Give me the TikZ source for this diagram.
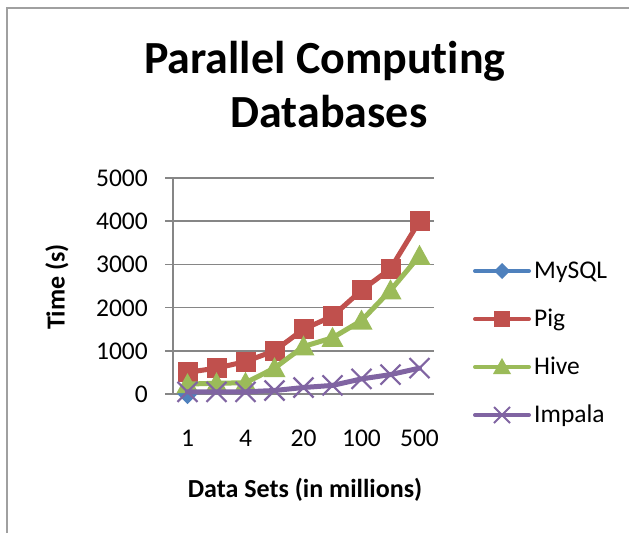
\documentclass[tikz,border=0pt]{standalone}
\usepackage{fontspec}
\setmainfont[Ligatures=CommonOff]{Carlito}
\definecolor{mysqlc}{HTML}{4F81BD}
\definecolor{pigc}{HTML}{C0504D}
\definecolor{hivec}{HTML}{9BBB59}
\definecolor{impc}{HTML}{8064A2}
\definecolor{gridc}{HTML}{868686}
\definecolor{framec}{HTML}{A0A0A0}
\tikzset{
  lbl/.style={inner sep=0pt, font=\fontsize{25.5}{30}\selectfont},
  axt/.style={inner sep=0pt, font=\fontsize{26}{30}\selectfont\bfseries},
  ttl/.style={inner sep=0pt, font=\fontsize{46}{50}\selectfont\bfseries},
  serie/.style={line width=5pt, line join=round, line cap=round},
  legline/.style={line width=4pt, line cap=round},
  pics/sqm/.style={code={\fill[#1] (-10,-10) rectangle (10,10);}},
  pics/trim/.style={code={\fill[#1] (0,-11) -- (11,9) -- (-11,9) -- cycle;}},
  pics/xm/.style={code={\draw[#1, line width=2.2pt] (-10,-10) -- (10,10) (-10,10) -- (10,-10);}},
  pics/dm/.style={code={\fill[#1] (0,-10) -- (10,0) -- (0,10) -- (-10,0) -- cycle;}},
  pics/sqs/.style={code={\fill[#1] (-8,-8) rectangle (8,8);}},
  pics/tris/.style={code={\fill[#1] (0,-9) -- (9,7) -- (-9,7) -- cycle;}},
  pics/xs/.style={code={\draw[#1, line width=2pt] (-8,-8) -- (8,8) (-8,8) -- (8,-8);}},
  pics/ds/.style={code={\fill[#1] (0,-8) -- (8,0) -- (0,8) -- (-8,0) -- cycle;}},
}
\begin{document}
\begin{tikzpicture}[x=1pt, y=-1pt]
\useasboundingbox (0,0) rectangle (629,533);
\fill[white] (0,0) rectangle (629,533);
% frame
\draw[framec, line width=2pt] (7,533) -- (7,8) -- (629,8);
% title
\node[ttl, anchor=base] (t1) at (325,73) {Parallel Computing};
\node[ttl, anchor=base] (t2) at (329,127) {Databases};
% grid and ticks
\foreach \v [count=\i from 0] in {0,1000,2000,3000,4000,5000} {
  \pgfmathsetmacro{\gy}{394-0.0432*\v}
  \draw[gridc, line width=1.5pt] (165,\gy) -- (434,\gy);
  \node[lbl, anchor=base east] (yl\i) at (148,\gy+8.5) {\v};
}
\draw[gridc, line width=1.5pt] (173,178) -- (173,394);
% axis titles
\node[axt, rotate=90, anchor=center] (ytitle) at (57,287) {Time (s)};
\node[axt, anchor=base] (xtitle) at (305,497) {Data Sets (in millions)};
% x labels
\node[lbl, anchor=base] (x1) at (187.5,446) {1};
\node[lbl, anchor=base] (x3) at (245.5,446) {4};
\node[lbl, anchor=base] (x5) at (303.5,446) {20};
\node[lbl, anchor=base] (x7) at (361.5,446) {100};
\node[lbl, anchor=base] (x9) at (419.5,446) {500};
% MySQL
\path (187.5,394) pic {dm=mysqlc};
% Pig
\draw[serie, pigc] plot coordinates {(187.5,372.4) (216.5,368.1) (245.5,361.6) (274.5,350.8) (303.5,329.2) (332.5,316.2) (361.5,290.3) (390.5,268.7) (419.5,221.2)};
\foreach \x/\v in {187.5/500,216.5/600,245.5/750,274.5/1000,303.5/1500,332.5/1800,361.5/2400,390.5/2900,419.5/4000}
  \path (\x,394-0.0432*\v) pic {sqm=pigc};
% Hive
\draw[serie, hivec] plot coordinates {(187.5,384.1) (216.5,383.2) (245.5,382.8) (274.5,368.1) (303.5,346.5) (332.5,337.8) (361.5,320.6) (390.5,290.3) (419.5,255.8)};
\foreach \x/\v in {187.5/230,216.5/250,245.5/260,274.5/600,303.5/1100,332.5/1300,361.5/1700,390.5/2400,419.5/3200}
  \path (\x,394-0.0432*\v) pic {trim=hivec};
% Impala
\draw[serie, impc] plot coordinates {(187.5,391.8) (216.5,391.8) (245.5,391.8) (274.5,390.5) (303.5,387.5) (332.5,385.4) (361.5,378.9) (390.5,374.6) (419.5,368.1)};
\foreach \x/\v in {187.5/50,216.5/50,245.5/50,274.5/80,303.5/150,332.5/200,361.5/350,390.5/450,419.5/600}
  \path (\x,394-0.0432*\v) pic {xm=impc};
% legend
\coordinate (l1a) at (475,271); \coordinate (l1b) at (529,271);
\coordinate (l2a) at (475,319); \coordinate (l2b) at (529,319);
\coordinate (l3a) at (475,367); \coordinate (l3b) at (529,367);
\coordinate (l4a) at (475,415); \coordinate (l4b) at (529,415);
\draw[legline, mysqlc] (l1a) -- (l1b);
\path (502,271) pic {ds=mysqlc};
\draw[legline, pigc] (l2a) -- (l2b);
\path (502,319) pic {sqs=pigc};
\draw[legline, hivec] (l3a) -- (l3b);
\path (502,367) pic {tris=hivec};
\draw[legline, impc] (l4a) -- (l4b);
\path (502,415) pic {xs=impc};
\node[lbl, anchor=base west] (lg1) at (534,278) {MySQL};
\node[lbl, anchor=base west] (lg2) at (534,326) {Pig};
\node[lbl, anchor=base west] (lg3) at (534,374) {Hive};
\node[lbl, anchor=base west] (lg4) at (534,422) {Impala};
\end{tikzpicture}
\end{document}
